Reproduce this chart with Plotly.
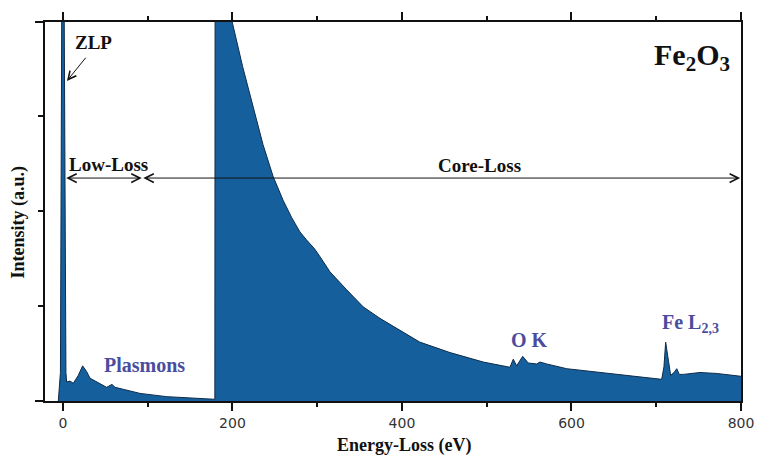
import plotly.graph_objects as go

# Energy-loss axis values (eV) and intensity (a.u.)
energy_ev = [-5.5, -3, -1.5, -0.5, 0, 0.5, 1.5, 2.5, 3.5, 4.3, 8.3, 12.2, 18.1, 23.2,
             27.9, 31.9, 39.7, 51.5, 57.8, 61.4, 71.2, 90.9, 122, 146, 177, 179.2,
             179.5, 199.4, 212, 224.5, 236, 248.1, 259.9, 269.9, 279.6, 287, 291.4,
             297, 303.2, 315, 334.8, 354.4, 374, 397.6, 421, 456.6, 496, 527.4, 531.3,
             535.3, 542.4, 549, 559, 562.8, 570.7, 594.3, 633.6, 673, 706.4, 709.1,
             711.1, 714.3, 717, 721, 724.2, 727.2, 732, 751.6, 771.3, 800]
intensity = [0, 0.3, 4, 40, 60, 40, 4, 0.8, 0.3, 0.2, 0.21, 0.186, 0.27, 0.37,
             0.31, 0.24, 0.205, 0.144, 0.175, 0.144, 0.123, 0.08, 0.046, 0.035, 0.018, 0.018,
             4.6, 4.0, 3.52, 3.08, 2.7, 2.36, 2.11, 1.93, 1.78, 1.70, 1.66,
             1.60, 1.52, 1.36, 1.17, 0.99, 0.87, 0.74, 0.62, 0.51, 0.41, 0.355, 0.44,
             0.37, 0.47, 0.40, 0.39, 0.41, 0.39, 0.34, 0.30, 0.256, 0.228, 0.36,
             0.62, 0.43, 0.27, 0.30, 0.34, 0.28, 0.28, 0.30, 0.29, 0.26]

x_tickvals = [0, 200, 400, 600, 800]
x_ticktext = ["0", "200", "400", "600", "800"]

# Region markers (eV) and arrow level (a.u.)
low_loss_range = [2, 93]
core_loss_range = [93, 799]
region_arrow_y = 2.347

SERIF = "Liberation Serif"
LABEL_BLUE = "#4a4d9e"

fig = go.Figure()
fig.add_trace(go.Scatter(
    x=energy_ev, y=intensity, mode="lines", fill="tozeroy",
    fillcolor="#15609c", line=dict(color="#0e2c4a", width=1),
    hoverinfo="skip", showlegend=False,
))

annotations = []
# double arrows
for (a, b) in (low_loss_range, core_loss_range):
    annotations.append(dict(
        x=b, y=region_arrow_y, ax=a, ay=region_arrow_y,
        xref="x", yref="y", axref="x", ayref="y", text="",
        showarrow=True, arrowhead=5, startarrowhead=5, arrowside="end+start",
        arrowsize=1.7, startarrowsize=1.7, arrowwidth=1, arrowcolor="#111",
        standoff=0, startstandoff=0,
    ))
# ZLP arrow
annotations.append(dict(
    x=4.7, y=3.37, ax=28.3, ay=3.63, xref="x", yref="y", axref="x", ayref="y",
    text="", showarrow=True, arrowhead=5, arrowsize=1.6, arrowwidth=1,
    arrowcolor="#111", standoff=0,
))

def txt(t, x, y, size, color="#111", xanchor="center", xref="x", yref="y"):
    annotations.append(dict(
        text=t, x=x, y=y, xref=xref, yref=yref, showarrow=False,
        xanchor=xanchor, yanchor="middle",
        font=dict(family=SERIF, size=size, color=color),
    ))

txt("<b>ZLP</b>", 36, 3.77, 19)
txt("<b>Low-Loss</b>", 53.7, 2.49, 19)
txt("<b>Core-Loss</b>", 491.4, 2.48, 19)
txt("<b>Plasmons</b>", 96.4, 0.384, 20, LABEL_BLUE)
txt("<b>O K</b>", 549.9, 0.637, 20, LABEL_BLUE)
txt("<b>Fe L<sub>2,3</sub></b>", 704.4, 0.82, 20, LABEL_BLUE, xanchor="left")
txt("<b>Fe<sub>2</sub>O<sub>3</sub></b>", 0.872, 0.908, 30, xanchor="left",
    xref="paper", yref="paper")
txt("<b>Energy-Loss (eV)</b>", 0.516, -0.118, 18, xref="paper", yref="paper")
annotations.append(dict(
    text="<b>Intensity (a.u.)</b>", x=-27/696, y=0.471, xref="paper", yref="paper",
    showarrow=False, textangle=-90, xanchor="center", yanchor="middle",
    font=dict(family=SERIF, size=18, color="#111"),
))

shapes = [
    dict(type="line", xref="paper", yref="paper", x0=-10/696, x1=0, y0=1, y1=1,
         line=dict(color="#111", width=2)),
    dict(type="line", xref="paper", yref="paper", x0=-10/696, x1=0, y0=0, y1=0,
         line=dict(color="#111", width=2)),
    dict(type="line", xref="paper", yref="paper", x0=1, x1=1, y0=1, y1=1 + 9/379,
         line=dict(color="#111", width=2)),
]

fig.update_layout(
    width=757, height=455,
    margin=dict(l=45, r=16, t=22, b=54, autoexpand=False),
    paper_bgcolor="white", plot_bgcolor="white",
    annotations=annotations, shapes=shapes,
    xaxis=dict(
        range=[-21.2, 800], showgrid=False, zeroline=False, automargin=False,
        showline=True, linecolor="#111", linewidth=2, mirror="ticks",
        ticks="outside", ticklen=8, tickwidth=2, tickcolor="#111",
        tickvals=x_tickvals, ticktext=x_ticktext,
        tickfont=dict(family="DejaVu Sans", size=14, color="#333"),
        minor=dict(dtick=100, tick0=0, ticks="outside", ticklen=4, tickwidth=2,
                   tickcolor="#111", showgrid=False),
    ),
    yaxis=dict(
        range=[0, 3.99], showgrid=False, zeroline=False, automargin=False,
        showline=True, linecolor="#111", linewidth=2, mirror=True,
        ticks="outside", ticklen=5, tickwidth=2, tickcolor="#111",
        dtick=1, tick0=0, showticklabels=False,
    ),
)

fig.write_html("out.html")
